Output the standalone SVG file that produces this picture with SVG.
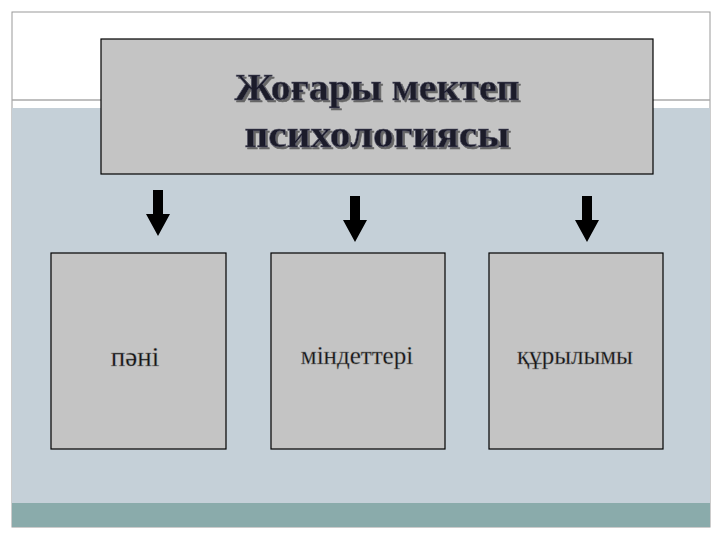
<svg xmlns="http://www.w3.org/2000/svg" width="720" height="540" viewBox="0 0 720 540">
<defs>
<filter id="shadow" x="-10%" y="-30%" width="120%" height="160%">
<feGaussianBlur in="SourceAlpha" stdDeviation="0.6" result="b"/>
<feOffset in="b" dx="2" dy="2" result="o"/>
<feFlood flood-color="#666"/>
<feComposite in2="o" operator="in" result="s"/>
<feMerge><feMergeNode in="s"/><feMergeNode in="SourceGraphic"/></feMerge>
</filter>
</defs>
<style>
.box{fill:#c4c4c4;stroke:#000;stroke-width:1.2}
.t{font-family:"Liberation Serif","DejaVu Serif",serif;text-anchor:middle;fill:#000}
.title{font-size:38px;font-weight:bold;fill:#1a1a2a;stroke:#556;stroke-width:0.6}
.lbl{font-size:27px;fill:#111;stroke:#888;stroke-width:0.4}
</style>
<rect x="0" y="0" width="720" height="540" fill="#fff"/>
<rect x="12" y="12" width="698" height="515" fill="#fff" stroke="#999" stroke-width="1"/>
<rect x="12" y="108" width="698" height="396" fill="#c5d0d8"/>
<line x1="12" y1="100" x2="710" y2="100" stroke="#aaa" stroke-width="1.5"/>
<rect x="12" y="503" width="698" height="24" fill="#8aabab"/>
<g id="title">
<rect class="box" x="101" y="39" width="552" height="135"/>
<g filter="url(#shadow)">
<text class="t title" x="377" y="100" textLength="285" lengthAdjust="spacingAndGlyphs">Жоғары мектеп</text>
<text class="t title" x="377" y="147" textLength="265" lengthAdjust="spacingAndGlyphs">психологиясы</text>
</g>
</g>
<g id="connectors" fill="#000">
<polygon points="153,190 163,190 163,214 170,214 158,236 146,214 153,214"/>
<polygon points="350,196 360,196 360,220 367,220 355,242 343,220 350,220"/>
<polygon points="582,196 592,196 592,220 599,220 587,242 575,220 582,220"/>
</g>
<g id="n1"><rect class="box" x="51" y="253" width="175" height="196"/><text class="t lbl" x="135" y="366">пәні</text></g>
<g id="n2"><rect class="box" x="271" y="253" width="174" height="196"/><text class="t lbl" x="357" y="364" style="font-size:25px">міндеттері</text></g>
<g id="n3"><rect class="box" x="489" y="253" width="174" height="196"/><text class="t lbl" x="575" y="364" style="font-size:25px">құрылымы</text></g>
</svg>
